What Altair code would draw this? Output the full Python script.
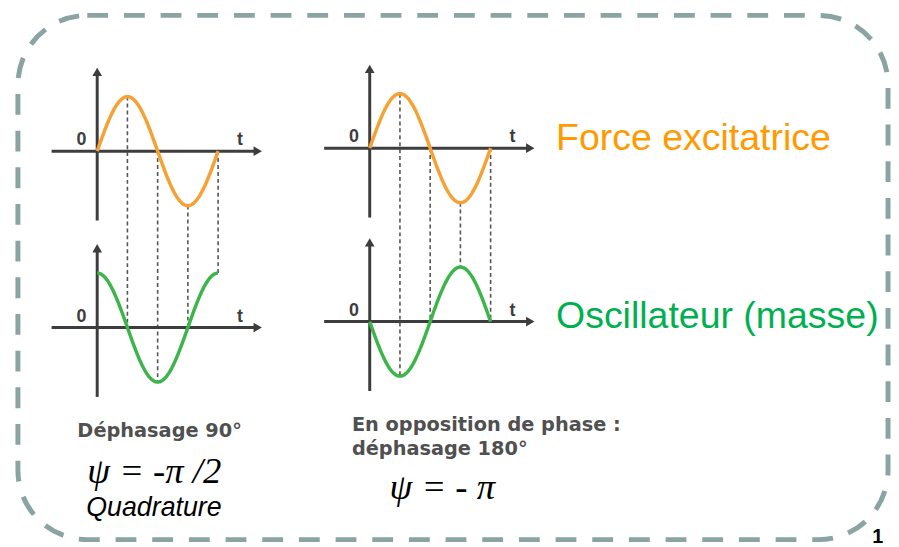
import altair as alt
import numpy as np
import pandas as pd

# ---------------- data ----------------
series_names = ["Force excitatrice", "Oscillateur (masse)"]
series_colors = ["#f6a133", "#3cb54b"]
label_colors = ["#ff9a00", "#00b050"]
oscillator_shift_deg = [90, 180]            # phase offset of the oscillator curve, per case
guide_fractions = [0.25, 0.5, 0.75, 1.0]    # fractions of the period marked by dashed guides
case_titles = [["Déphasage 90°"], ["En opposition de phase :", "déphasage 180°"]]
psi_texts = ["ψ = -π /2", "ψ = - π"]
sub_texts = ["Quadrature"]
page_number = ["1"]

# ---------------- layout (page pixels) ----------------
W, H = 891, 539
col_x0 = [98, 373]
force_axis_y = [150, 147]
osc_axis_y = [328, 322]
AMP = 55
PERIOD = 122

xs = alt.Scale(domain=[8, 8 + W], range=[0, W])
ys = alt.Scale(domain=[8, 8 + H], range=[0, H])
X = lambda f: alt.X(f, type="quantitative", scale=xs, axis=None)
Y = lambda f: alt.Y(f, type="quantitative", scale=ys, axis=None)

# curves
t = np.linspace(0, 1, 181)
rows = []
for c in range(2):
    shift = np.deg2rad(oscillator_shift_deg[c])
    for s, (ay, ph) in enumerate([(force_axis_y[c], 0.0), (osc_axis_y[c], shift)]):
        v = np.sin(2 * np.pi * t + ph)
        for i, (tt, vv) in enumerate(zip(t, v)):
            rows.append(dict(key=f"{c}-{s}", series=series_names[s], order=i,
                             px=col_x0[c] + PERIOD * tt, py=ay - AMP * vv))
curves = pd.DataFrame(rows)

# dashed guides
g = []
for c in range(2):
    shift = np.deg2rad(oscillator_shift_deg[c])
    for f in guide_fractions:
        px = col_x0[c] + PERIOD * f
        g.append(dict(px=px, py=force_axis_y[c] - AMP * np.sin(2 * np.pi * f),
                      py2=osc_axis_y[c] - AMP * np.sin(2 * np.pi * f + shift)))
guides = pd.DataFrame(g)

# axes and arrow heads
ax_rows, heads_up, heads_right, axis_labels = [], [], [], []
for c in range(2):
    x0 = col_x0[c]
    for ay in (force_axis_y[c], osc_axis_y[c]):
        ax_rows.append(dict(px=x0 - 46, px2=x0 + 160, py=ay, py2=ay))
        ax_rows.append(dict(px=x0, px2=x0, py=ay + 70, py2=ay - 78))
        heads_right.append(dict(px=x0 + 162, py=ay))
        heads_up.append(dict(px=x0, py=ay - 80))
        axis_labels.append(dict(text="0", px=x0 - 16, py=ay - 6))
        axis_labels.append(dict(text="t", px=x0 + 144, py=ay - 6))
axes_df = pd.DataFrame(ax_rows)
hu = pd.DataFrame(heads_up)
hr = pd.DataFrame(heads_right)
al = pd.DataFrame(axis_labels)

border = alt.Chart(pd.DataFrame([dict(px=18, px2=896, py=13, py2=542)])).mark_rect(
    cornerRadius=70, fill="white", fillOpacity=0, stroke="#8aa3a3", strokeWidth=5,
    strokeDash=[21, 16]
).encode(x=X("px"), x2="px2", y=Y("py"), y2="py2")

axes = alt.Chart(axes_df).mark_rule(color="#3d3d3d", strokeWidth=3).encode(
    x=X("px"), x2="px2", y=Y("py"), y2="py2")
up = alt.Chart(hu).mark_point(shape="triangle-up", filled=True, color="#3d3d3d",
                              size=95, opacity=1).encode(x=X("px"), y=Y("py"))
right = alt.Chart(hr).mark_point(shape="triangle-right", filled=True, color="#3d3d3d",
                                 size=95, opacity=1).encode(x=X("px"), y=Y("py"))
guide_layer = alt.Chart(guides).mark_rule(color="#555555", strokeWidth=1.6,
                                          strokeDash=[4, 3]).encode(
    x=X("px"), y=Y("py"), y2="py2")
curve_layer = alt.Chart(curves).mark_line(strokeWidth=3.5).encode(
    x=X("px"), y=Y("py"), detail="key:N", order="order:Q",
    color=alt.Color("series:N", scale=alt.Scale(domain=series_names, range=series_colors),
                    legend=None))
axis_text = alt.Chart(al).mark_text(font="Liberation Sans", fontWeight="bold", fontSize=18,
                                    color="#3d3d3d", align="center",
                                    baseline="alphabetic").encode(
    x=X("px"), y=Y("py"), text="text:N")

big = pd.DataFrame(dict(text=series_names, col=label_colors, px=[561, 561], py=[149, 328]))
big_text = alt.Chart(big).mark_text(font="Liberation Sans", fontSize=37.8, align="left",
                                    baseline="alphabetic").encode(
    x=X("px"), y=Y("py"), text="text:N", color=alt.Color("col:N", scale=None))

titles = pd.DataFrame(dict(text=case_titles[0] + case_titles[1],
                           px=[78, 355, 355], py=[438, 432, 457]))
title_text = alt.Chart(titles).mark_text(font="DejaVu Sans", fontWeight="bold", fontSize=19.5,
                                         color="#505050", align="left",
                                         baseline="alphabetic").encode(
    x=X("px"), y=Y("py"), text="text:N")

psi = pd.DataFrame(dict(text=psi_texts, px=[88, 393], py=[485, 501]))
psi_text = alt.Chart(psi).mark_text(font="Liberation Serif", fontStyle="italic", fontSize=37,
                                    color="black", align="left",
                                    baseline="alphabetic").encode(
    x=X("px"), y=Y("py"), text="text:N")

sub = pd.DataFrame(dict(text=sub_texts, px=[87], py=[518]))
sub_text = alt.Chart(sub).mark_text(font="Liberation Sans", fontStyle="italic", fontSize=27,
                                    color="black", align="left",
                                    baseline="alphabetic").encode(
    x=X("px"), y=Y("py"), text="text:N")

pn = pd.DataFrame(dict(text=page_number, px=[880], py=[545]))
pn_text = alt.Chart(pn).mark_text(font="Liberation Sans", fontWeight="bold", fontSize=20,
                                  color="black", align="left",
                                  baseline="alphabetic").encode(
    x=X("px"), y=Y("py"), text="text:N")

chart = alt.layer(border, guide_layer, axes, up, right, curve_layer, axis_text, big_text,
                  title_text, psi_text, sub_text, pn_text).properties(
    width=W, height=H, autosize=alt.AutoSizeParams(type="none"), padding=0
).configure_view(stroke=None)

chart.save("out.html", embed_options={"renderer": "svg", "actions": False})
